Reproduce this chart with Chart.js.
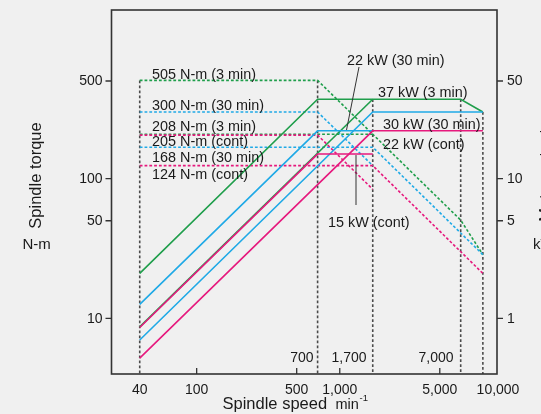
<!DOCTYPE html>
<html>
<head>
<meta charset="utf-8">
<script src="https://cdn.jsdelivr.net/npm/chart.js@4.4.1/dist/chart.umd.min.js"></script>
<style>
  html, body { margin: 0; padding: 0; background: #f0f0f0; }
  canvas { display: block; }
</style>
</head>
<body>
<canvas id="c" width="541" height="414"></canvas>
<script>
// ---- Axis ticks ----
const speedTicks = [40, 100, 500, 1000, 5000, 10000];
const speedTickLabels = ['40', '100', '500', '1,000', '5,000', '10,000'];
const torqueTicks = [10, 50, 100, 500];
const torqueTickLabels = ['10', '50', '100', '500'];
const powerTicks = [1, 5, 10, 50];
const powerTickLabels = ['1', '5', '10', '50'];

// ---- Torque curves (N-m), dashed ----
const greenTorqueLowSpeed = [40, 700, 1700, 7000, 10000];
const greenTorqueLow = [505, 505, 208, 50.5, 28.6];
const greenTorqueHighSpeed = [40, 1700];
const greenTorqueHigh = [208, 208];
const blueTorqueLowSpeed = [40, 700, 1700];
const blueTorqueLow = [300, 300, 124];
const blueTorqueHighSpeed = [40, 1700, 10000];
const blueTorqueHigh = [168, 168, 28.6];
const pinkTorqueLowSpeed = [40, 700, 1700];
const pinkTorqueLow = [205, 205, 84];
const pinkTorqueHighSpeed = [40, 1700, 10000];
const pinkTorqueHigh = [124, 124, 21];

// ---- Output curves (kW), solid ----
const greenPowerLowSpeed = [40, 700, 7000, 10000];
const greenPowerLow = [2.1, 37, 37, 30];
const greenPowerHighSpeed = [40, 1700];
const greenPowerHigh = [0.87, 37];
const bluePowerLowSpeed = [40, 700, 1700];
const bluePowerLow = [1.26, 22, 22];
const bluePowerHighSpeed = [40, 1700, 10000];
const bluePowerHigh = [0.70, 30, 30];
const pinkPowerLowSpeed = [40, 700, 1700];
const pinkPowerLow = [0.86, 15, 15];
const pinkPowerHighSpeed = [40, 1700, 10000];
const pinkPowerHigh = [0.52, 22, 22];

// ---- Vertical guide lines (speed, top in kW) ----
const guideSpeeds = [40, 700, 1700, 7000, 10000];
const guideTopPower = [50.5, 50.5, 37, 37, 30];

const X_MIN = 25.4, X_MAX = 12555;
const Y_MIN = 4, Y_MAX = 1611;
const Y2_MIN = 0.4, Y2_MAX = 161.1;

const GREEN = '#1f9e4b', BLUE = '#1fa9e6', PINK = '#e6197d', GUIDE = '#4a4a4a';
const TEXT = '#1a1a1a';
const FONT = '"Liberation Sans", Arial, Helvetica, sans-serif';

function pts(xs, ys) { return xs.map((v, i) => ({ x: v, y: ys[i] })); }

function solid(xs, ys, color) {
  return { data: pts(xs, ys), yAxisID: 'y2', borderColor: color, borderWidth: 1.6,
           showLine: true, pointRadius: 0, fill: false, tension: 0 };
}
function dashed(xs, ys, color) {
  return { data: pts(xs, ys), yAxisID: 'y', borderColor: color, borderWidth: 1.6,
           borderDash: [2.8, 2], showLine: true, pointRadius: 0, fill: false, tension: 0 };
}

const datasets = [
  solid(pinkPowerLowSpeed, pinkPowerLow, PINK),
  solid(pinkPowerHighSpeed, pinkPowerHigh, PINK),
  solid(bluePowerLowSpeed, bluePowerLow, BLUE),
  solid(bluePowerHighSpeed, bluePowerHigh, BLUE),
  solid(greenPowerLowSpeed, greenPowerLow, GREEN),
  solid(greenPowerHighSpeed, greenPowerHigh, GREEN),
  dashed(pinkTorqueLowSpeed, pinkTorqueLow, PINK),
  dashed(pinkTorqueHighSpeed, pinkTorqueHigh, PINK),
  dashed(blueTorqueLowSpeed, blueTorqueLow, BLUE),
  dashed(blueTorqueHighSpeed, blueTorqueHigh, BLUE),
  dashed(greenTorqueLowSpeed, greenTorqueLow, GREEN),
  dashed(greenTorqueHighSpeed, greenTorqueHigh, GREEN),
];
guideSpeeds.forEach((s, i) => {
  datasets.push({ data: [{ x: s, y: guideTopPower[i] }, { x: s, y: Y2_MIN }], yAxisID: 'y2',
    borderColor: GUIDE, borderWidth: 1.6, borderDash: [2.8, 2.2], showLine: true,
    pointRadius: 0, fill: false, tension: 0 });
});

function txt(ctx, s, x, y, size, align, base) {
  ctx.font = size + 'px ' + FONT;
  ctx.textAlign = align || 'left';
  ctx.textBaseline = base || 'alphabetic';
  ctx.fillText(s, x, y);
}

const overlay = {
  id: 'overlay',
  afterDraw(chart) {
    const { ctx, chartArea: a } = chart;
    const { x, y, y2 } = chart.scales;
    ctx.save();
    // frame
    ctx.strokeStyle = '#333';
    ctx.lineWidth = 1.6;
    ctx.strokeRect(a.left, a.top, a.right - a.left, a.bottom - a.top);
    // tick marks
    ctx.lineWidth = 1.3;
    ctx.beginPath();
    torqueTicks.forEach(v => { const p = y.getPixelForValue(v); ctx.moveTo(a.left - 6, p); ctx.lineTo(a.left, p); });
    powerTicks.forEach(v => { const p = y2.getPixelForValue(v); ctx.moveTo(a.right, p); ctx.lineTo(a.right + 6, p); });
    speedTicks.slice(1, 5).forEach(v => { const p = x.getPixelForValue(v); ctx.moveTo(p, a.bottom); ctx.lineTo(p, a.bottom - 6); });
    ctx.stroke();

    ctx.fillStyle = TEXT;
    // tick labels
    torqueTicks.forEach((v, i) => txt(ctx, torqueTickLabels[i], a.left - 9, y.getPixelForValue(v) + 0.5, 14, 'right', 'middle'));
    powerTicks.forEach((v, i) => txt(ctx, powerTickLabels[i], a.right + 10, y2.getPixelForValue(v) + 0.5, 14, 'left', 'middle'));
    speedTicks.forEach((v, i) => {
      let px = x.getPixelForValue(v);
      if (v === 10000) px = a.right + 1;
      txt(ctx, speedTickLabels[i], px, 393.5, 14, 'center');
    });

    // axis titles
    txt(ctx, 'Spindle speed', 222.5, 408.5, 16.5, 'left');
    txt(ctx, 'min', 335.5, 408.5, 14.5, 'left');
    txt(ctx, '-1', 359.5, 401, 9.5, 'left');
    ctx.save();
    ctx.translate(36, 175.5);
    ctx.rotate(-Math.PI / 2);
    txt(ctx, 'Spindle torque', 0, 0, 16.5, 'center', 'middle');
    ctx.restore();
    txt(ctx, 'N-m', 22.5, 248.5, 15, 'left');
    ctx.save();
    ctx.translate(546, 175.5);
    ctx.rotate(-Math.PI / 2);
    txt(ctx, 'Motor output', 0, 0, 16.5, 'center', 'middle');
    ctx.restore();
    txt(ctx, 'kW', 533, 248.5, 15, 'left');

    // torque annotations
    const AF = 14.4;
    txt(ctx, '505 N-m (3 min)', 152, 78.5, AF);
    txt(ctx, '300 N-m (30 min)', 152, 109.5, AF);
    txt(ctx, '208 N-m (3 min)', 152, 130.5, AF);
    txt(ctx, '205 N-m (cont)', 152, 145.5, AF);
    txt(ctx, '168 N-m (30 min)', 152, 161.5, AF);
    txt(ctx, '124 N-m (cont)', 152, 178.5, AF);

    // output annotations
    txt(ctx, '22 kW (30 min)', 347, 64.5, AF);
    txt(ctx, '37 kW (3 min)', 378, 96.5, AF);
    txt(ctx, '30 kW (30 min)', 383, 128.5, AF);
    txt(ctx, '22 kW (cont)', 383, 148.5, AF);
    txt(ctx, '15 kW (cont)', 328, 226.5, AF);

    // speed annotations
    txt(ctx, '700', 313.5, 362, 14, 'right');
    txt(ctx, '1,700', 331.5, 362, 14, 'left');
    txt(ctx, '7,000', 453.5, 362, 14, 'right');

    // leader lines
    ctx.strokeStyle = '#333';
    ctx.lineWidth = 1;
    ctx.beginPath();
    ctx.moveTo(359, 67); ctx.lineTo(346.5, 130);
    ctx.moveTo(356, y2.getPixelForValue(15) + 1); ctx.lineTo(356, 205);
    ctx.stroke();
    ctx.restore();
  }
};

const hidden = { display: false };
new Chart(document.getElementById('c'), {
  type: 'scatter',
  data: { datasets },
  options: {
    responsive: false,
    animation: false,
    devicePixelRatio: 1,
    layout: { padding: { top: 10, left: 0, right: 0, bottom: 0 } },
    plugins: { legend: { display: false }, tooltip: { enabled: false } },
    scales: {
      x: { type: 'logarithmic', position: 'bottom', min: X_MIN, max: X_MAX,
           ticks: hidden, grid: hidden, border: hidden, afterFit(s) { s.height = 40; } },
      y: { type: 'logarithmic', position: 'left', min: Y_MIN, max: Y_MAX,
           ticks: hidden, grid: hidden, border: hidden, afterFit(s) { s.width = 111.5; } },
      y2: { type: 'logarithmic', position: 'right', min: Y2_MIN, max: Y2_MAX,
           ticks: hidden, grid: hidden, border: hidden, afterFit(s) { s.width = 44; } }
    }
  },
  plugins: [overlay]
});
</script>
</body>
</html>
